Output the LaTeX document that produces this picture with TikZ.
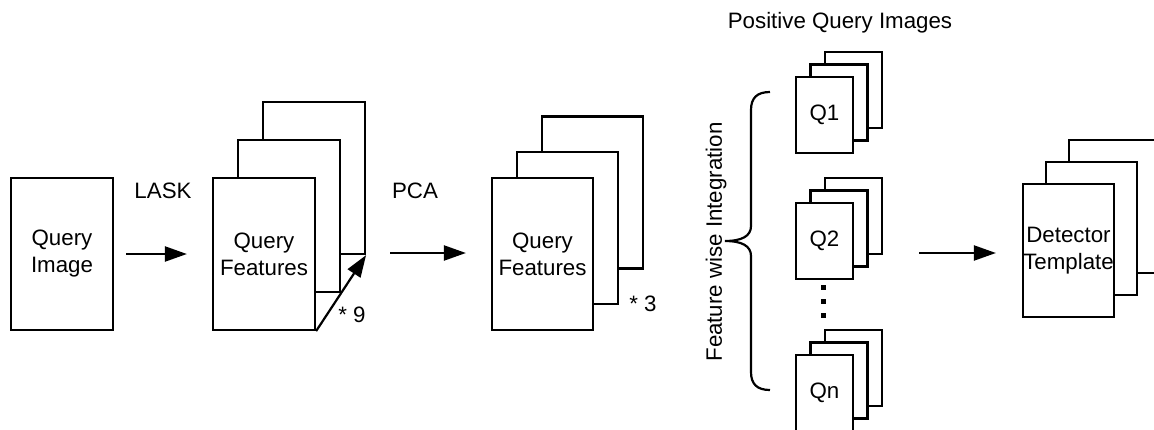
\documentclass[tikz,border=0pt]{standalone}
\usepackage{fontspec}
\setmainfont{Liberation Sans}
\usetikzlibrary{arrows.meta}
\begin{document}
\begin{tikzpicture}[x=1pt,y=-1pt,
  every node/.style={font=\fontsize{22.3}{27}\selectfont, text=black},
  sheet/.style={draw=black, line width=2.2pt, fill=white, inner sep=0pt, align=center},
  bigsheet/.style={sheet, minimum width=102pt, minimum height=152pt},
  detsheet/.style={sheet, minimum width=91pt, minimum height=133pt},
  qsheet/.style={sheet, minimum width=57pt, minimum height=76pt},
  flow/.style={line width=2.2pt, -{Triangle[length=22pt,width=15pt]}},
  label/.style={inner sep=0pt}
]
\useasboundingbox (0,0) rectangle (1154,429);
\clip (0,0) rectangle (1154,429);

% input image
\node[bigsheet] (qimg) at (62,254) {Query\\Image};

% nine feature maps
\node[bigsheet] (qf1c) at (314,178) {};
\node[bigsheet] (qf1b) at (289,216) {};
\node[bigsheet] (qf1a) at (264,254) {Query\\Features};
\draw[flow] (qf1a.south east) -- (qf1c.south east);
\node[label] (n9) at (352,315) {* 9};

% reduced feature maps
\node[bigsheet, minimum width=101pt] (qf2c) at (592.5,192.5) {};
\node[bigsheet, minimum width=101pt] (qf2b) at (567.5,228) {};
\node[bigsheet, minimum width=101pt] (qf2a) at (542.5,254) {Query\\Features};
\node[label] (n3) at (643,304) {* 3};

% positive query stacks
\node[label] (pos) at (840,23) {Positive Query Images};
\foreach \nm/\y/\txt in {q1/115/Q1, q2/241/Q2, qn/393/Qn}{
  \node[qsheet] (\nm c) at (853.5,\y-25) {};
  \node[qsheet] (\nm b) at (839,\y-12.5) {};
  \node[qsheet] (\nm a) at (824.5,\y) {\txt};
}
\foreach \y in {287,301,315}
  \fill[black] (820.5,\y-2.5) rectangle (825.5,\y+2.5);

% integration brace
\draw[line width=2.2pt]
  (770,92) .. controls (757,92) and (751,98) .. (751,110)
  -- (751,226) .. controls (751,236) and (742,241) .. (725,241)
  .. controls (742,241) and (751,246) .. (751,256)
  -- (751,372) .. controls (751,384) and (757,390) .. (770,390);
\node[label, rotate=90] (fwi) at (716,242) {Feature wise Integration};

% detector template
\node[detsheet] (dtc) at (1114.5,206.5) {};
\node[detsheet] (dtb) at (1091.5,228.5) {};
\node[detsheet] (dta) at (1068.5,250.5) {Detector\\Template};

% flow arrows
\draw[flow, shorten <=12pt, shorten >=25pt] (qimg.east |- 0,254) -- (qf1a.west |- 0,254);
\node[label] (lask) at (163,191) {LASK};
\draw[flow, shorten <=24pt, shorten >=25pt] (qf1c.east |- 0,253) -- (qf2a.west |- 0,253);
\node[label] (pca) at (415,191) {PCA};
\coordinate (qright) at (q2c.east |- 0,253);
\draw[flow, shorten <=36pt, shorten >=26pt] (qright) -- (dta.west |- 0,253);
\end{tikzpicture}
\end{document}
